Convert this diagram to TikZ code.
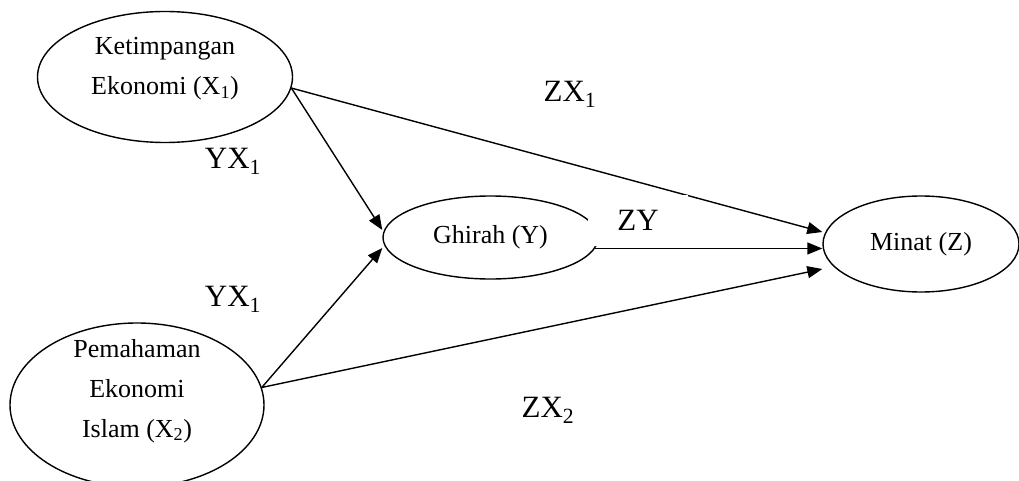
\documentclass[tikz,border=0pt]{standalone}
\usepackage{fontspec}
\setmainfont{Liberation Serif}
\usetikzlibrary{arrows.meta,shapes.geometric}
\begin{document}
\begin{tikzpicture}[x=1pt,y=-1pt,
  var/.style={draw, line width=1.4pt, ellipse, inner sep=0pt, align=center,
    font=\fontsize{26}{38}\selectfont},
  txt/.style={align=center, inner sep=0pt, font=\fontsize{26}{40}\selectfont},
  conn/.style={line width=1.4pt, -{Triangle[length=15pt,width=12pt]}},
  lbl/.style={fill=white, inner sep=2pt, font=\fontsize{31}{36}\selectfont}]
\useasboundingbox (0,0) rectangle (1019,481);
\node[var, minimum width=255pt, minimum height=131pt] (x1) at (165,77) {};
\node[txt] (x1t) at (165,69) {Ketimpangan\\Ekonomi (X\textsubscript{1})};
\node[var, minimum width=254pt, minimum height=164pt] (x2) at (137,405) {};
\node[txt] (x2t) at (137,391) {Pemahaman\\Ekonomi\\Islam (X\textsubscript{2})};
\node[var, minimum width=215pt, minimum height=83pt] (y) at (490.5,237.5) {Ghirah (Y)};
\node[var, minimum width=196pt, minimum height=96pt] (z) at (921,244) {Minat (Z)};

\draw[conn] (x1.-5) -- ([yshift=7.5pt]y.west);
\draw[conn] (x1.-5) -- ([yshift=12pt]z.west);
\draw[conn] (x2.8) -- ([yshift=-10.5pt]y.west);
\draw[conn] (x2.8) -- ([yshift=-25pt]z.west);
\draw[conn] (y.-6) -- (y.-6 -| z.west);

\node[lbl] (lzx1) at (570,94) {ZX\textsubscript{1}};
\node[lbl] (lyx1a) at (233,161) {YX\textsubscript{1}};
\node[lbl] (lyx1b) at (233,299) {YX\textsubscript{1}};
\node[lbl] (lzx2) at (548,410) {ZX\textsubscript{2}};
\node[lbl, minimum width=100pt, minimum height=51pt] (lzy) at (638,220.5) {ZY};
\end{tikzpicture}
\end{document}
